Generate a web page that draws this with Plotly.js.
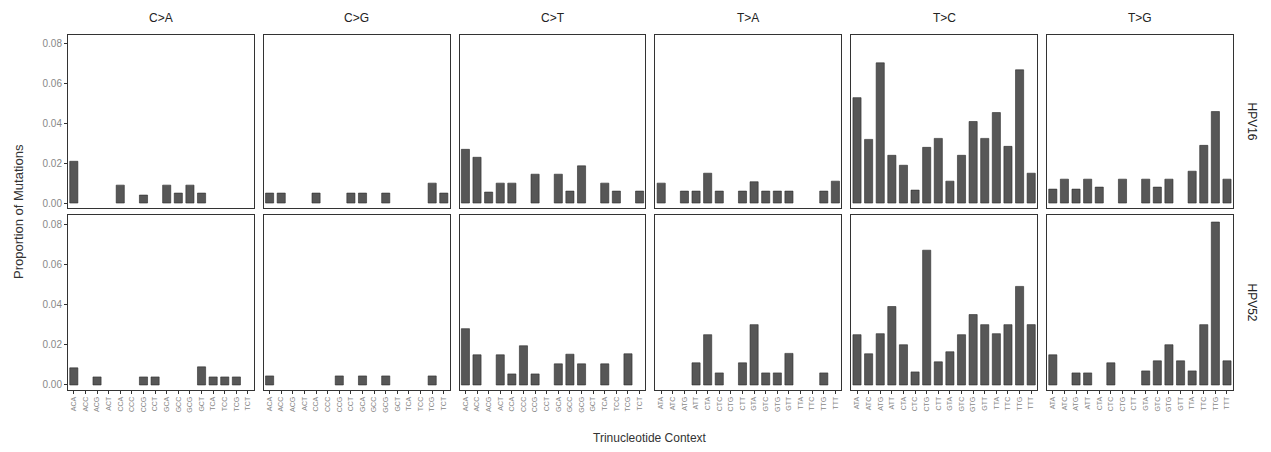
<!DOCTYPE html>
<html>
<head>
<meta charset="utf-8">
<script src="https://cdn.plot.ly/plotly-3.0.1.min.js"></script>
<style>html,body{margin:0;padding:0;background:#fff}#chart{width:1271px;height:452px}</style>
</head>
<body>
<div id="chart"></div>
<script>
// Mutation types (columns) and samples (rows)
const mutationTypes = ["C>A", "C>G", "C>T", "T>A", "T>C", "T>G"];
const samples = ["HPV16", "HPV52"];

// Trinucleotide contexts
const contextsC = ["ACA","ACC","ACG","ACT","CCA","CCC","CCG","CCT","GCA","GCC","GCG","GCT","TCA","TCC","TCG","TCT"];
const contextsT = ["ATA","ATC","ATG","ATT","CTA","CTC","CTG","CTT","GTA","GTC","GTG","GTT","TTA","TTC","TTG","TTT"];

// Proportion of mutations, HPV16
const hpv16_CA = [0.021,0,0,0,0.009,0,0.004,0,0.009,0.005,0.009,0.005,0,0,0,0];
const hpv16_CG = [0.005,0.005,0,0,0.005,0,0,0.005,0.005,0,0.005,0,0,0,0.010,0.005];
const hpv16_CT = [0.027,0.023,0.0055,0.010,0.010,0,0.0145,0,0.0145,0.006,0.0187,0,0.010,0.006,0,0.006];
const hpv16_TA = [0.010,0,0.006,0.006,0.015,0.006,0,0.006,0.0107,0.006,0.006,0.006,0,0,0.006,0.011];
const hpv16_TC = [0.053,0.032,0.0705,0.024,0.019,0.0065,0.028,0.0325,0.011,0.024,0.041,0.0325,0.0455,0.0285,0.067,0.015];
const hpv16_TG = [0.007,0.012,0.007,0.012,0.008,0,0.012,0,0.012,0.008,0.012,0,0.016,0.029,0.046,0.012];

// Proportion of mutations, HPV52
const hpv52_CA = [0.0085,0,0.004,0,0,0,0.004,0.004,0,0,0,0.009,0.004,0.004,0.004,0];
const hpv52_CG = [0.0045,0,0,0,0,0,0.0045,0,0.0045,0,0.0045,0,0,0,0.0045,0];
const hpv52_CT = [0.028,0.015,0,0.015,0.0055,0.0195,0.0055,0,0.0105,0.0153,0.0105,0,0.0105,0,0.0155,0];
const hpv52_TA = [0,0,0,0.011,0.025,0.006,0,0.011,0.030,0.006,0.006,0.0157,0,0,0.006,0];
const hpv52_TC = [0.025,0.0155,0.0255,0.039,0.020,0.0065,0.067,0.0115,0.0165,0.025,0.035,0.030,0.0255,0.030,0.049,0.030];
const hpv52_TG = [0.015,0,0.006,0.006,0,0.011,0,0,0.007,0.012,0.020,0.012,0.007,0.030,0.081,0.012];

const yTicks = [0, 0.02, 0.04, 0.06, 0.08];
const yTickText = ["0.00", "0.02", "0.04", "0.06", "0.08"];

const seriesByRow = [
  [hpv16_CA, hpv16_CG, hpv16_CT, hpv16_TA, hpv16_TC, hpv16_TG],
  [hpv52_CA, hpv52_CG, hpv52_CT, hpv52_TA, hpv52_TC, hpv52_TG]
];

const W = 1271, H = 452;
const colLeft = 68, colW = 185.8, colGap = 10;
const rowPx = [[35, 208], [215, 390]];

const data = [];
const layout = {
  width: W, height: H,
  margin: {l: 0, r: 0, t: 0, b: 0},
  paper_bgcolor: "#fff", plot_bgcolor: "#fff",
  showlegend: false,
  font: {family: "Liberation Sans, Arial, sans-serif", color: "#222"},
  annotations: [],
  bargap: 0.3
};

for (let r = 0; r < 2; r++) {
  for (let c = 0; c < 6; c++) {
    const k = r * 6 + c + 1;
    const xa = "x" + (k === 1 ? "" : k), ya = "y" + (k === 1 ? "" : k);
    const cats = c < 3 ? contextsC : contextsT;
    data.push({
      type: "bar", x: cats,
      y: seriesByRow[r][c].map(v => (v === 0 ? null : v)),
      xaxis: xa, yaxis: ya,
      marker: {color: "#575757", line: {color: "#2b2b2b", width: 0.6}},
      hoverinfo: "x+y"
    });
    const x0 = (colLeft + c * (colW + colGap)) / W;
    const x1 = (colLeft + c * (colW + colGap) + colW) / W;
    const y0 = 1 - rowPx[r][1] / H, y1 = 1 - rowPx[r][0] / H;
    layout["xaxis" + (k === 1 ? "" : k)] = {
      domain: [x0, x1], anchor: ya, type: "category",
      categoryorder: "array", categoryarray: cats,
      range: [-0.5, 15.5],
      showline: true, mirror: true, linecolor: "#333", linewidth: 1,
      showgrid: false, zeroline: false,
      ticks: r === 1 ? "outside" : "", ticklen: 3, tickcolor: "#333",
      showticklabels: r === 1, tickangle: -90,
      tickfont: {size: 7, color: "#888", family: "Liberation Sans, Arial, sans-serif"}
    };
    layout["yaxis" + (k === 1 ? "" : k)] = {
      domain: [y0, y1], anchor: xa,
      range: [-0.0025, 0.0845],
      showline: true, mirror: true, linecolor: "#333", linewidth: 1,
      showgrid: false, zeroline: false,
      tickvals: yTicks, ticktext: yTickText,
      ticks: c === 0 ? "outside" : "", ticklen: 3, tickcolor: "#333",
      showticklabels: c === 0,
      tickfont: {size: 10, color: "#888", family: "Liberation Sans, Arial, sans-serif"}
    };
  }
}

// Column strip titles
mutationTypes.forEach((m, c) => {
  layout.annotations.push({
    text: m, xref: "paper", yref: "paper",
    x: (colLeft + c * (colW + colGap) + colW / 2) / W, y: 1 - 18 / H,
    showarrow: false, font: {size: 12, color: "#222"}, xanchor: "center", yanchor: "middle"
  });
});
// Row strip titles
samples.forEach((s, r) => {
  layout.annotations.push({
    text: s, xref: "paper", yref: "paper",
    x: 1252 / W, y: 1 - ((rowPx[r][0] + rowPx[r][1]) / 2) / H,
    showarrow: false, textangle: 90, font: {size: 12, color: "#222"},
    xanchor: "center", yanchor: "middle"
  });
});
// Axis titles
layout.annotations.push({
  text: "Trinucleotide Context", xref: "paper", yref: "paper",
  x: 650 / W, y: 1 - 438 / H, showarrow: false,
  font: {size: 12, color: "#333"}, xanchor: "center", yanchor: "middle"
});
layout.annotations.push({
  text: "Proportion of Mutations", xref: "paper", yref: "paper",
  x: 18 / W, y: 1 - 212 / H, showarrow: false, textangle: -90,
  font: {size: 13, color: "#333"}, xanchor: "center", yanchor: "middle"
});

Plotly.newPlot("chart", data, layout, {staticPlot: true, displayModeBar: false});
</script>
</body>
</html>
